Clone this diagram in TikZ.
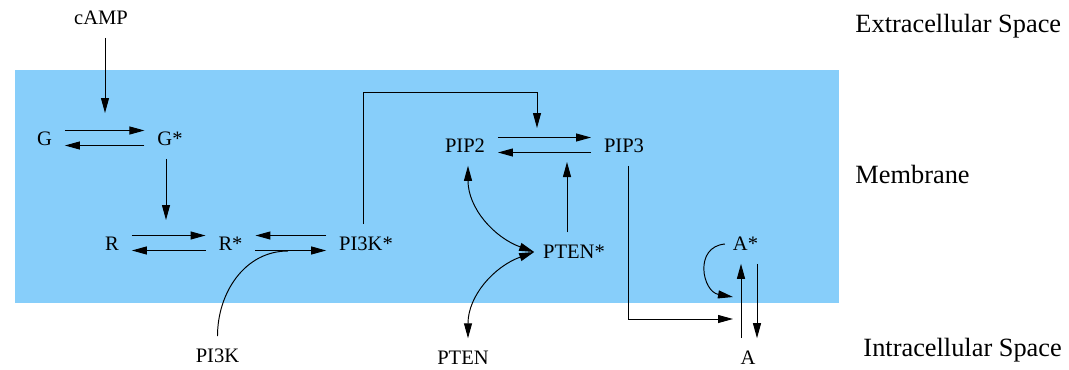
\documentclass[tikz,border=0pt]{standalone}
\usepackage{fontspec}
\setmainfont{Liberation Serif}
\usepackage{xcolor}
\usepackage{tikz}
\usetikzlibrary{arrows.meta}
\definecolor{MemBlue}{HTML}{87CEFA}

\begin{document}
\begin{tikzpicture}[x=1cm,y=1cm,
  mol/.style={inner sep=0.25cm,font=\fontsize{11.7}{14}\selectfont},
  zone/.style={anchor=base west,inner sep=0pt,font=\fontsize{15}{18}\selectfont},
  >={Triangle[length=3mm,width=1.6mm]}, line width=0.55pt]
\path[use as bounding box] (0,0) rectangle (21.38,7.38);
\fill[MemBlue] (0.30,1.32) rectangle (16.77,5.98);
\node[zone] (extra) at (17.10,6.74) {Extracellular Space};
\node[zone] (memb) at (17.10,3.72) {Membrane};
\node[zone] (intra) at (17.26,0.26) {Intracellular Space};
\node[mol] (camp) at (2.02,7.02) {cAMP};
\node[mol] (G) at (0.89,4.60) {G};
\node[mol] (Gs) at (3.40,4.60) {G*};
\node[mol] (R) at (2.24,2.50) {R};
\node[mol] (Rs) at (4.61,2.50) {R*};
\node[mol] (PIs) at (7.32,2.50) {PI3K*};
\node[mol] (PI) at (4.35,0.26) {PI3K};
\node[mol] (PIP2) at (9.30,4.46) {PIP2};
\node[mol] (PIP3) at (12.48,4.46) {PIP3};
\node[mol] (PTENs) at (11.48,2.34) {PTEN*};
\node[mol] (PTEN) at (9.26,0.22) {PTEN};
\node[mol] (As) at (14.91,2.50) {A*};
\node[mol] (A) at (14.96,0.22) {A};
\coordinate (gmid) at (2.10,5.12);
\coordinate (rmid) at (3.32,2.98);
\coordinate (pijoin) at (5.76,2.36);
\coordinate (pipmid) at (10.74,4.82);
\coordinate (pipbot) at (11.34,4.14);
\coordinate (ain) at (14.66,1.00);
\coordinate (aloop) at (14.66,1.44);
\draw[->] ([yshift=0.17cm]G.east) -- ([yshift=0.17cm]Gs.west);
\draw[->] ([yshift=-0.13cm]Gs.west) -- ([yshift=-0.13cm]G.east);
\draw[->] (camp.south -| gmid) -- (gmid);
\draw[->] (Gs.south -| rmid) -- (rmid);
\draw[->] ([yshift=0.17cm]R.east) -- ([yshift=0.17cm]Rs.west);
\draw[->] ([yshift=-0.13cm]Rs.west) -- ([yshift=-0.13cm]R.east);
\draw[->] ([yshift=0.17cm]PIs.west) -- ([yshift=0.17cm]Rs.east);
\draw[->] ([yshift=-0.13cm]Rs.east) -- ([yshift=-0.13cm]PIs.west);
\draw (PI.north) to[out=90,in=180] (pijoin);
\draw[->] ([xshift=-0.06cm]PIs.north) |- ([yshift=0.72cm]pipmid) -- (pipmid);
\draw[->] ([yshift=0.17cm]PIP2.east) -- ([yshift=0.17cm]PIP3.west);
\draw[->] ([yshift=-0.13cm]PIP3.west) -- ([yshift=-0.13cm]PIP2.east);
\draw[->] (PTENs.north -| pipbot) -- (pipbot);
\draw[<->] ([xshift=0.06cm]PIP2.south) to[out=-90,in=160] ([xshift=0.08cm]PTENs.west);
\draw[<->] ([xshift=0.1cm]PTEN.north) to[out=90,in=200] ([xshift=0.08cm]PTENs.west);
\draw[->] ([xshift=0.08cm]PIP3.south) |- (ain);
\draw[->] ([xshift=-0.14cm]A.north) -- ([xshift=-0.14cm]A.north |- As.south);
\draw[->] ([xshift=0.18cm]A.north |- As.south) -- ([xshift=0.18cm]A.north);
\draw[->] ([xshift=0.1cm]As.west) to[out=185,in=170,looseness=1.5] (aloop);
\end{tikzpicture}
\end{document}
